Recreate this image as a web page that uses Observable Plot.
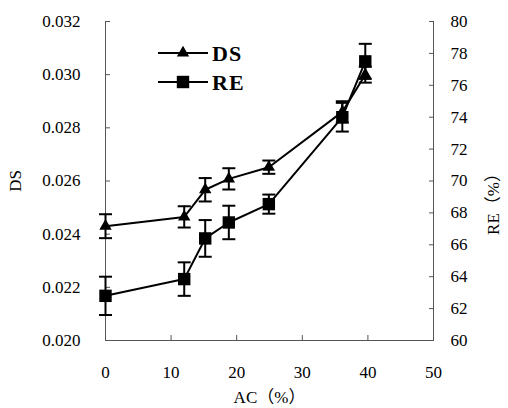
<!DOCTYPE html>
<html>
<head>
<meta charset="utf-8">
<script src="https://cdn.jsdelivr.net/npm/d3@7"></script>
<script src="https://cdn.jsdelivr.net/npm/@observablehq/plot@0.6"></script>
<style>
  body { margin: 0; background: #fff; }
  #chart { position: relative; width: 508px; height: 408px; }
  #chart svg text { font-family: "Liberation Serif", "Times New Roman", "Noto Sans CJK SC", serif; }
  #legend { position: absolute; left: 0; top: 0; pointer-events: none; }
</style>
</head>
<body>
<div id="chart"></div>
<script>
// AC content (%) of each sample
const ac = [0, 12, 15.2, 18.8, 24.9, 36.1, 39.6];
// degree of substitution and its error
const ds = [0.0243, 0.02465, 0.02567, 0.02608, 0.02652, 0.0286, 0.0300];
const dsErr = [0.00045, 0.0004, 0.00044, 0.0004, 0.00025, 0.0004, 0.0003];
// reaction efficiency (%) and its error
const re = [62.8, 63.85, 66.4, 67.4, 68.55, 74.0, 77.5];
const reErr = [1.2, 1.05, 1.15, 1.05, 0.6, 0.9, 1.1];

// axis ticks
const xTicks = [0, 10, 20, 30, 40, 50];
const dsTicks = [0.020, 0.022, 0.024, 0.026, 0.028, 0.030, 0.032];
const reTicks = [60, 62, 64, 66, 68, 70, 72, 74, 76, 78, 80];

const dsDomain = [0.020, 0.032];
const reDomain = [60, 80];
// RE shares the plot's y scale: map it linearly onto the DS domain
const k = (dsDomain[1] - dsDomain[0]) / (reDomain[1] - reDomain[0]);
const toDS = v => dsDomain[0] + (v - reDomain[0]) * k;
const fromDS = v => reDomain[0] + (v - dsDomain[0]) / k;

const rows = ac.map((x, i) => ({
  ac: x,
  ds: ds[i], dsLo: ds[i] - dsErr[i], dsHi: ds[i] + dsErr[i],
  re: toDS(re[i]), reLo: toDS(re[i] - reErr[i]), reHi: toDS(re[i] + reErr[i])
}));

// horizontal cap for error bars
const cap = {
  draw(context, size) {
    const w = Math.sqrt(size / Math.PI);
    context.moveTo(-w, 0);
    context.lineTo(w, 0);
  }
};

const font = "Liberation Serif, Times New Roman, Noto Sans CJK SC, serif";
const axisColor = "#555";
const textStyle = {fontFamily: font, fontSize: 17, fill: "black"};

function errorBars(lo, hi) {
  return [
    Plot.ruleX(rows, {x: "ac", y1: lo, y2: hi, stroke: "black", strokeWidth: 2}),
    Plot.dot(rows, {x: "ac", y: lo, symbol: cap, r: 6.5, fill: "none", stroke: "black", strokeWidth: 2}),
    Plot.dot(rows, {x: "ac", y: hi, symbol: cap, r: 6.5, fill: "none", stroke: "black", strokeWidth: 2})
  ];
}

const chart = Plot.plot({
  width: 508,
  height: 408,
  marginLeft: 105,
  marginRight: 75,
  marginTop: 21,
  marginBottom: 68,
  style: {fontFamily: font, fontSize: "17px", color: "black", background: "white"},
  x: {domain: [0, 50]},
  y: {domain: dsDomain},
  marks: [
    // frame: left, right and bottom lines
    Plot.ruleX([0, 50], {stroke: axisColor, strokeWidth: 1}),
    Plot.ruleY([dsDomain[0]], {stroke: axisColor, strokeWidth: 1}),

    Plot.axisX(xTicks, {tickSize: -5, tickPadding: 30, stroke: axisColor, label: null, ...textStyle}),
    Plot.axisY(dsTicks, {anchor: "left", tickSize: -5, tickPadding: 30, stroke: axisColor,
      tickFormat: d3.format(".3f"), label: null, ...textStyle}),
    Plot.axisY(reTicks.map(toDS), {anchor: "right", tickSize: -5, tickPadding: 22, stroke: axisColor,
      tickFormat: d => String(Math.round(fromDS(d))), label: null, ...textStyle}),

    // axis titles
    Plot.text(["AC（%）"], {frameAnchor: "bottom", dy: 62, ...textStyle}),
    Plot.text(["DS"], {frameAnchor: "left", dx: -90, textAnchor: "middle", rotate: -90, ...textStyle}),
    Plot.text(["RE（%）"], {frameAnchor: "right", dx: 60, dy: 19, textAnchor: "middle", rotate: -90, ...textStyle}),

    // RE series
    ...errorBars("reLo", "reHi"),
    Plot.line(rows, {x: "ac", y: "re", stroke: "black", strokeWidth: 2}),
    Plot.dot(rows, {x: "ac", y: "re", symbol: "square", r: 7, fill: "black", stroke: "none"}),

    // DS series
    ...errorBars("dsLo", "dsHi"),
    Plot.line(rows, {x: "ac", y: "ds", stroke: "black", strokeWidth: 2}),
    Plot.dot(rows, {x: "ac", y: "ds", symbol: "triangle", r: 4.6, fill: "black", stroke: "none"})
  ]
});

const host = document.getElementById("chart");
host.appendChild(chart);
// tick labels use the same serif face as the titles
d3.select(chart).selectAll("text").style("font-family", font).style("font-variant", "normal");

// legend drawn over the plot area
const series = [
  {name: "DS", symbol: d3.symbolTriangle, size: Math.PI * 4.6 * 4.6},
  {name: "RE", symbol: d3.symbolSquare, size: Math.PI * 7 * 7}
];
const legend = d3.select(host).append("svg")
  .attr("id", "legend").attr("width", 508).attr("height", 408)
  .style("font-family", font);
const item = legend.selectAll("g").data(series).join("g")
  .attr("transform", (d, i) => `translate(158,${53 + i * 29})`);
item.append("line").attr("x1", 0).attr("x2", 50).attr("stroke", "black").attr("stroke-width", 2);
item.append("path").attr("transform", "translate(25,0)")
  .attr("d", d => d3.symbol(d.symbol, d.size)());
item.append("text").attr("x", 54).attr("dy", "0.35em")
  .attr("font-size", 22).attr("font-weight", "bold").attr("letter-spacing", 1)
  .text(d => d.name);
</script>
</body>
</html>
